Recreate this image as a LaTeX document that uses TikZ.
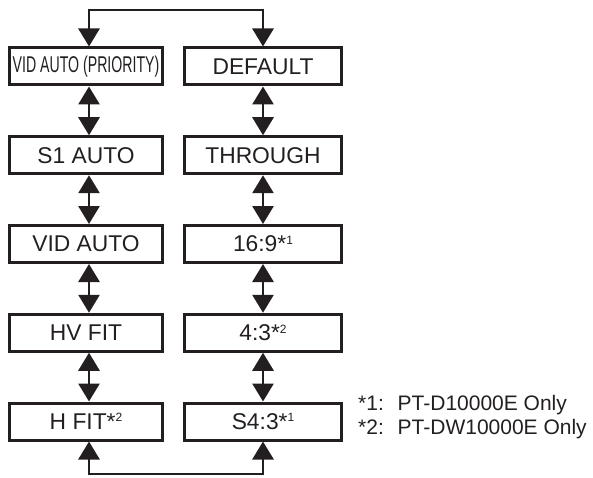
\documentclass[tikz,border=0pt]{standalone}
\usepackage{fontspec}
\setmainfont{Liberation Sans}
\usetikzlibrary{arrows.meta}
\definecolor{ink}{HTML}{231F20}
\newcommand{\supn}[1]{*\raisebox{7.5pt}{\fontsize{12}{12}\selectfont #1}}
\begin{document}
\begin{tikzpicture}[x=1pt,y=-1pt, color=ink,
  box/.style={draw, line width=3pt, minimum height=37pt, inner sep=0pt,
    font=\fontsize{22.8}{24}\selectfont},
  lbox/.style={box, minimum width=153.5pt},
  rbox/.style={box, minimum width=157.5pt},
  tip/.tip={Triangle[length=18pt,width=21pt]},
  link/.style={line width=2.8pt, tip-tip},
  note/.style={anchor=base west, inner sep=0pt, font=\fontsize{21}{22}\selectfont}]
\useasboundingbox (0,0) rectangle (593,478);
% left column
\node[lbox] (l1) at (86,66.5) {\scalebox{0.62}[1]{VID AUTO (PRIORITY)}};
\node[lbox] (l2) at (86,155.25) {S1 AUTO};
\node[lbox] (l3) at (86,244) {VID AUTO};
\node[lbox] (l4) at (86,332.75) {HV FIT};
\node[lbox] (l5) at (86,421.5) {H FIT\supn{2}};
% right column
\node[rbox] (r1) at (263,66.5) {DEFAULT};
\node[rbox] (r2) at (263,155.25) {THROUGH};
\node[rbox] (r3) at (263,244) {16:9\supn{1}};
\node[rbox] (r4) at (263,332.75) {4:3\supn{2}};
\node[rbox] (r5) at (263,421.5) {S4:3\supn{1}};
% vertical links
\foreach \a/\b in {l1/l2,l2/l3,l3/l4,l4/l5}
  \draw[link] ([xshift=3pt]\a.south) -- ([xshift=3pt]\b.north);
\foreach \a/\b in {r1/r2,r2/r3,r3/r4,r4/r5}
  \draw[link] (\a.south) -- (\b.north);
% loop links
\coordinate (tl) at (89,10);
\coordinate (tr) at (263,10);
\coordinate (bl) at (89,474);
\coordinate (br) at (263,474);
\draw[link, line join=miter] ([xshift=3pt]l1.north) -- (tl) -- (tr) -- (r1.north);
\draw[link, line join=miter] ([xshift=3pt]l5.south) -- (bl) -- (br) -- (r5.south);
% notes
\node[note] (n1) at (358,410) {*1:\hspace{6pt} PT-D10000E Only};
\node[note] (n2) at (358,434) {*2:\hspace{6pt} PT-DW10000E Only};
\end{tikzpicture}
\end{document}
